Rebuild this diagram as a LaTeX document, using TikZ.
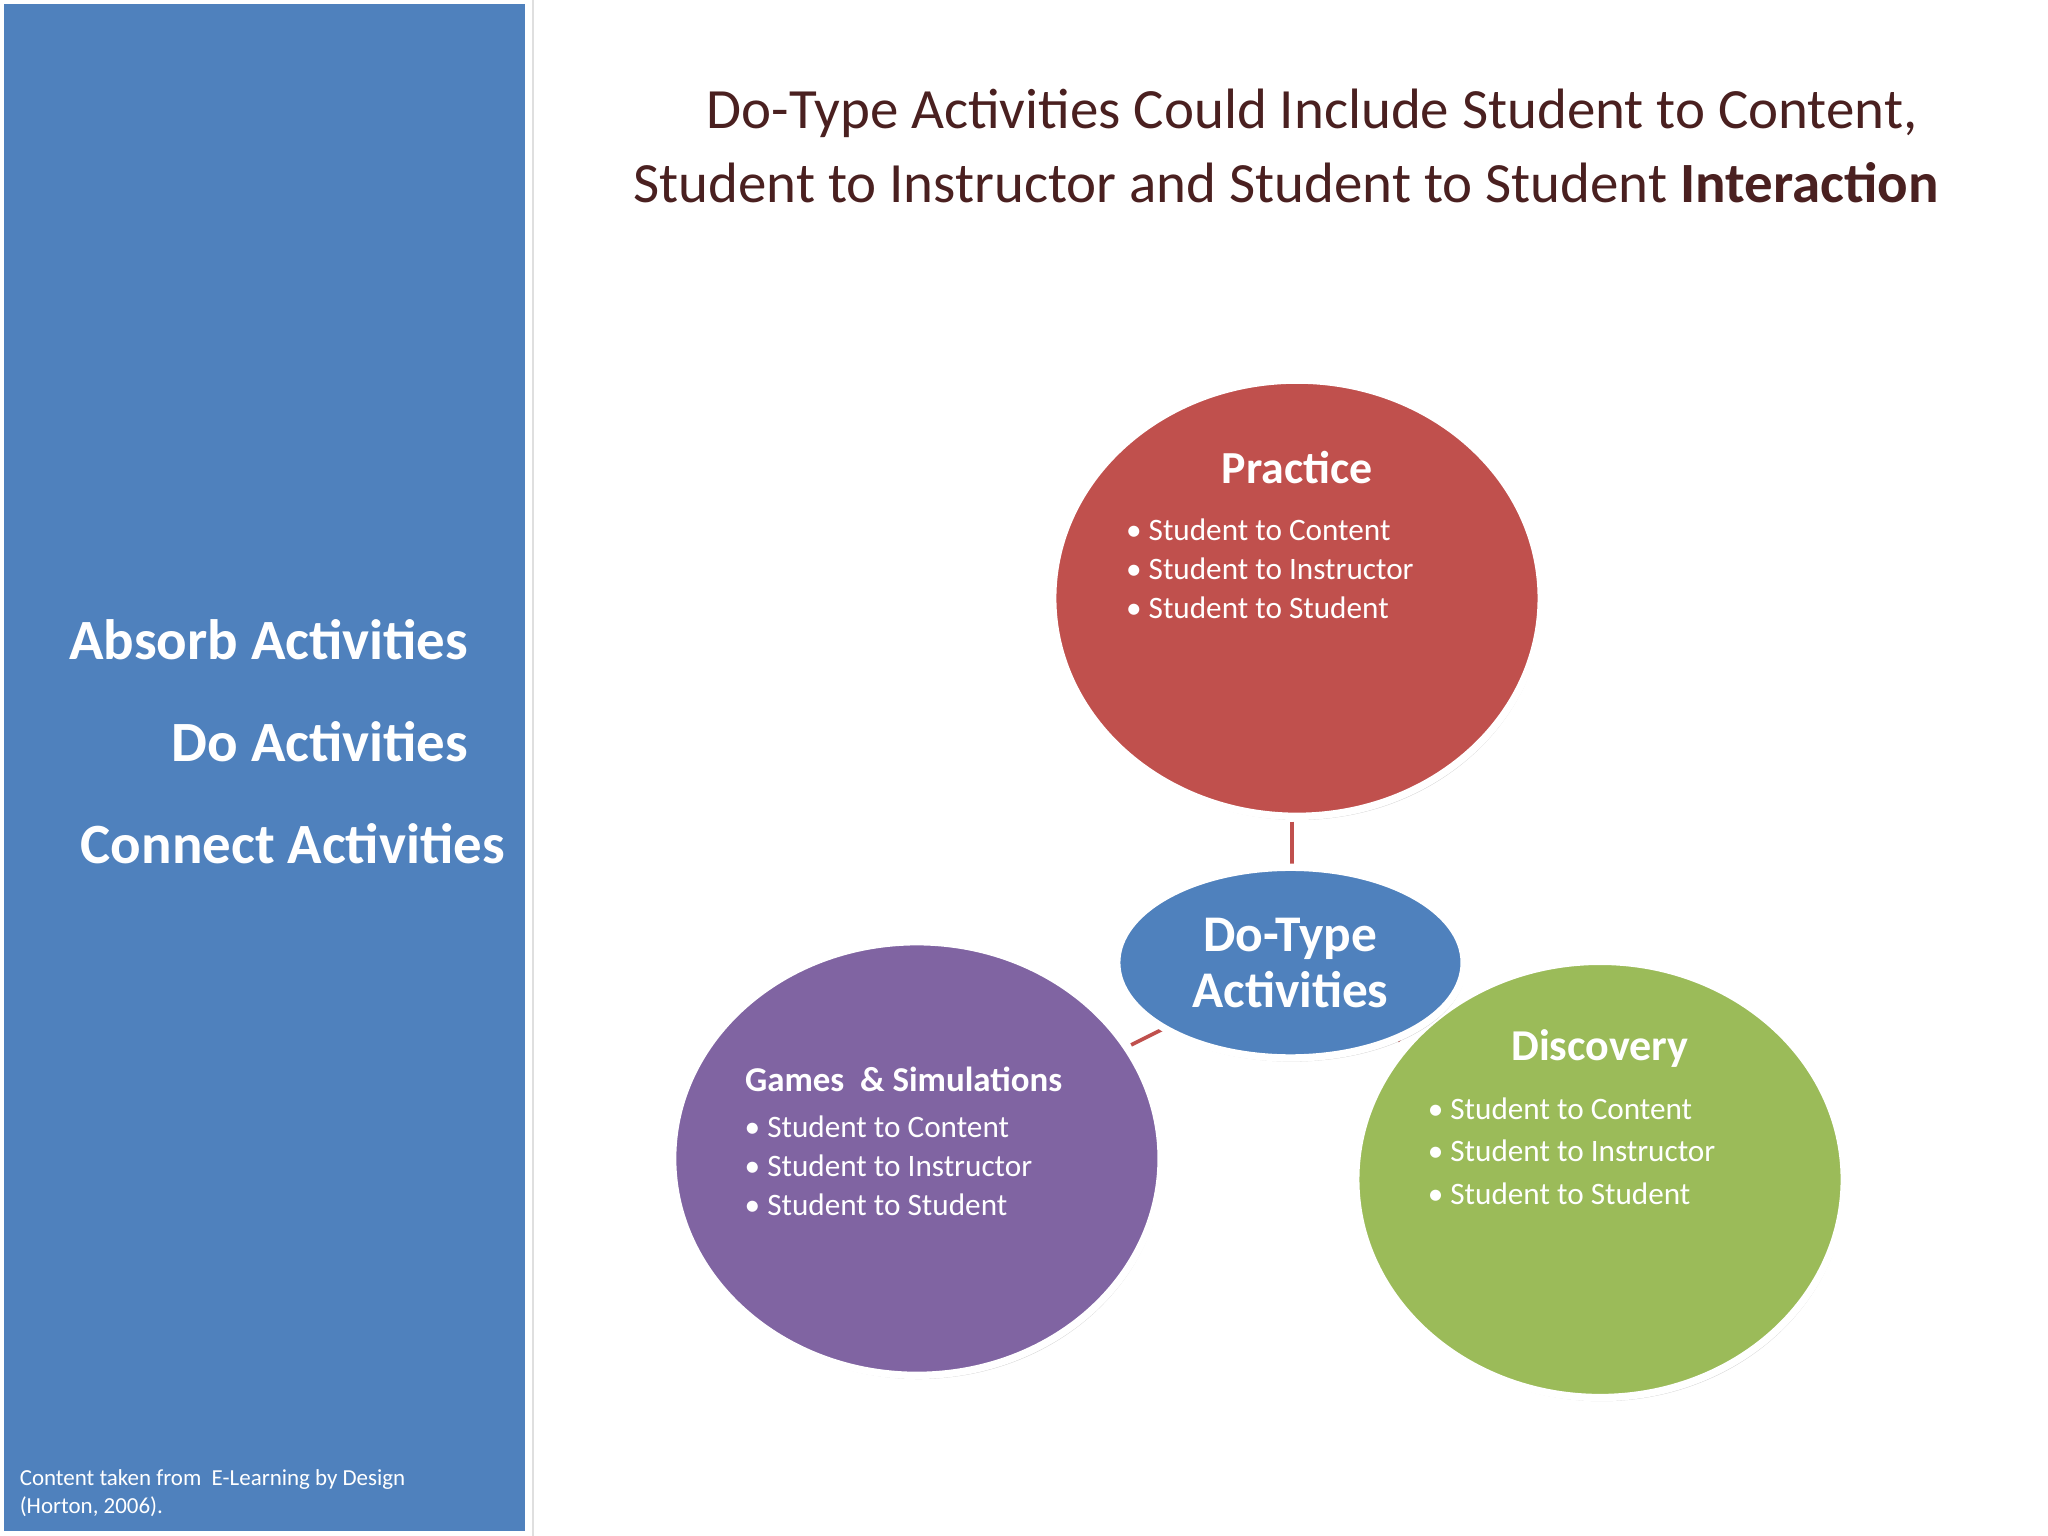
\documentclass[tikz,border=0pt]{standalone}
\usepackage{fontspec}
\setmainfont{Carlito}
\usetikzlibrary{shadows,shapes.geometric}
\definecolor{pblue}{HTML}{4F81BD}
\definecolor{pred}{HTML}{C0504D}
\definecolor{ppurple}{HTML}{8064A2}
\definecolor{pgreen}{HTML}{9BBB59}
\definecolor{ttl}{HTML}{4A2020}
\newcommand{\fs}[1]{\fontsize{#1pt}{1.2\dimexpr#1pt\relax}\selectfont}
\tikzset{
 circ/.style={ellipse,draw=white,line width=8pt,fill=#1,inner sep=0pt,drop shadow={shadow xshift=2pt,shadow yshift=-4pt,opacity=0.35}},
 lefttxt/.style={anchor=east,text=white,font=\fs{62}\bfseries},
 head/.style={text=white,font=\fs{50}\bfseries},
 bl/.style={text=white,anchor=north west,align=left,font=\fs{34},inner sep=0pt},
 link/.style={draw=pred,line width=4pt},
 ttlt/.style={text=ttl,anchor=west,font=\fs{62},inner sep=0pt}
}
\begin{document}
\begin{tikzpicture}[x=0.05cm,y=-0.05cm]
\useasboundingbox (0,0) rectangle (1568,1176);
\fill[white] (0,0) rectangle (1568,1176);
\fill[pblue] (3,3) rectangle (402,1172);
\draw[gray!25,line width=2pt] (408,0) -- (408,1176);
\node[lefttxt] (a1) at (361,490) {Absorb Activities};
\node[lefttxt] (a2) at (361,568) {Do Activities};
\node[lefttxt] (a3) at (389,646) {Connect Activities};
\node[anchor=north west,text=white,align=left,font=\fs{25},inner sep=0pt] (src) at (15,1125) {Content taken from\ \ E-Learning by Design\\(Horton, 2006).};
\node[ttlt] (t1) at (541,87) {Do-Type Activities Could Include Student to Content,};
\node[ttlt] (t2) at (485,140) {Student to Instructor and Student to Student \textbf{Interaction}};
% circles
\node[circ=pred,minimum width=18.7cm,minimum height=16.7cm] (pr) at (993,458) {};
\node[circ=ppurple,minimum width=18.7cm,minimum height=16.6cm] (gm) at (702,887) {};
\node[circ=pgreen,minimum width=18.7cm,minimum height=16.7cm] (ds) at (1225,903) {};
\coordinate (l1) at (989,629);
\coordinate (l2) at (989,665);
\coordinate (l3) at (890,788);
\coordinate (l4) at (866,800);
\coordinate (l5) at (1075,792);
\coordinate (l6) at (1070,797);
\draw[link] (l1) -- (l2);
\draw[link] (l3) -- (l4);
\draw[link] (l5) -- (l6);
\node[circ=pblue,minimum width=13.3cm,minimum height=7.3cm] (do) at (988,737) {};
\node[text=white,font=\fs{56}\bfseries,align=center] (dot) at (988,737) {Do-Type\\[-6pt]Activities};
\node[head] (prh) at (993,358) {Practice};
\node[bl] (prb) at (862,397) {• Student to Content\\[2pt]• Student to Instructor\\[2pt]• Student to Student};
\node[head,font=\fs{38}\bfseries,anchor=west] (gmh) at (568,826) {Games\ \ \& Simulations};
\node[bl] (gmb) at (570,854) {• Student to Content\\[2pt]• Student to Instructor\\[2pt]• Student to Student};
\node[head,font=\fs{48}\bfseries] (dsh) at (1225,803) {Discovery};
\node[bl] (dsb) at (1093,840) {• Student to Content\\[6pt]• Student to Instructor\\[6pt]• Student to Student};
\end{tikzpicture}
\end{document}
